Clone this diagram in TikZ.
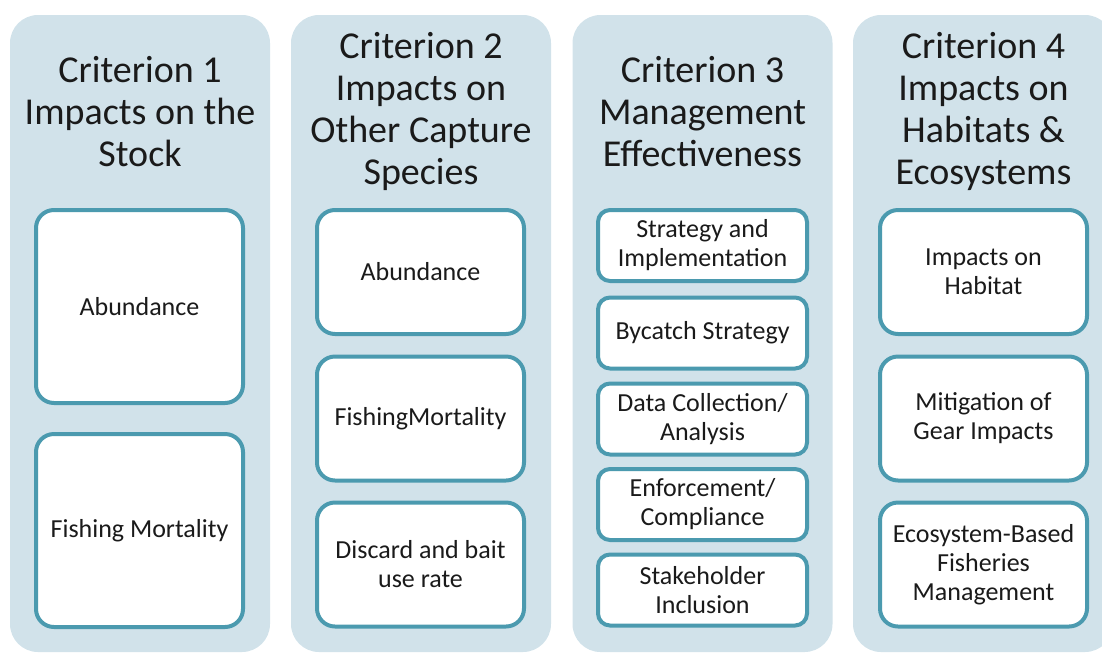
\documentclass[tikz,border=0pt]{standalone}
\usepackage{fontspec}
\setmainfont{Carlito}
\usetikzlibrary{positioning}

\definecolor{colbg}{HTML}{D1E2EA}
\definecolor{boxline}{HTML}{4B9AAF}
\definecolor{ink}{HTML}{1A1A1A}

\tikzset{
	column/.style={rectangle, rounded corners=14pt, fill=colbg, draw=none,
		minimum width=130pt, minimum height=318.5pt, inner sep=0pt},
	crit/.style={align=center, text=ink, font=\fontsize{19}{21}\selectfont, inner sep=0pt},
	item/.style={rectangle, rounded corners=9pt, fill=white, draw=boxline,
		line width=2pt, minimum width=103.5pt, align=center, text=ink,
		font=\fontsize{13}{14.5}\selectfont, inner sep=0pt},
	smallitem/.style={item, rounded corners=6pt, minimum width=104.5pt, minimum height=35.5pt}
}

\begin{document}
\begin{tikzpicture}[x=0.5pt, y=-0.5pt]
					\useasboundingbox (0,0) rectangle (1102,654);

					\node[column] (c1) at (140, 333.5) {};
					\node[column] (c2) at (421, 333.5) {};
					\node[column] (c3) at (702.5, 333.5) {};
					\node[column] (c4) at (983, 333.5) {};

					\node[crit] (t1) at (140, 112) {Criterion 1\\Impacts on the\\Stock};
					\node[crit] (t2) at (421, 111) {Criterion 2\\Impacts on\\Other Capture\\Species};
					\node[crit] (t3) at (702.5, 112) {Criterion 3\\Management\\Effectiveness};
					\node[crit] (t4) at (983.5, 111) {Criterion 4\\Impacts on\\Habitats \&\\Ecosystems};

					% criterion 1
					\node[item, minimum height=96.5pt] (s1) at (139.5, 306.5) {Abundance};
					\node[item, minimum height=96.5pt] (s2) at (139.5, 530.5) {Fishing Mortality};

					% criterion 2
					\node[item, minimum height=62pt] (o1) at (420.5, 272) {Abundance};
					\node[item, minimum height=62pt] (o2) at (420.5, 418.5) {FishingMortality};
					\node[item, minimum height=62pt] (o3) at (420.5, 564.5) {Discard and bait\\use rate};

					% criterion 3
					\node[smallitem] (m1) at (702.5, 245.5) {Strategy and\\Implementation};
					\node[smallitem] (m2) at (702.5, 333) {Bycatch Strategy};
					\node[smallitem] (m3) at (702.5, 419) {Data Collection/\\Analysis};
					\node[smallitem] (m4) at (702.5, 504.5) {Enforcement/\\Compliance};
					\node[smallitem] (m5) at (702.5, 590) {Stakeholder\\Inclusion};

					% criterion 4
					\node[item, minimum height=62pt] (h1) at (983.5, 272) {Impacts on\\Habitat};
					\node[item, minimum height=62pt] (h2) at (983.5, 418.5) {Mitigation of\\Gear Impacts};
					\node[item, minimum height=62pt] (h3) at (983.5, 564.5) {Ecosystem-Based\\Fisheries\\Management};
				\end{tikzpicture}
\end{document}
